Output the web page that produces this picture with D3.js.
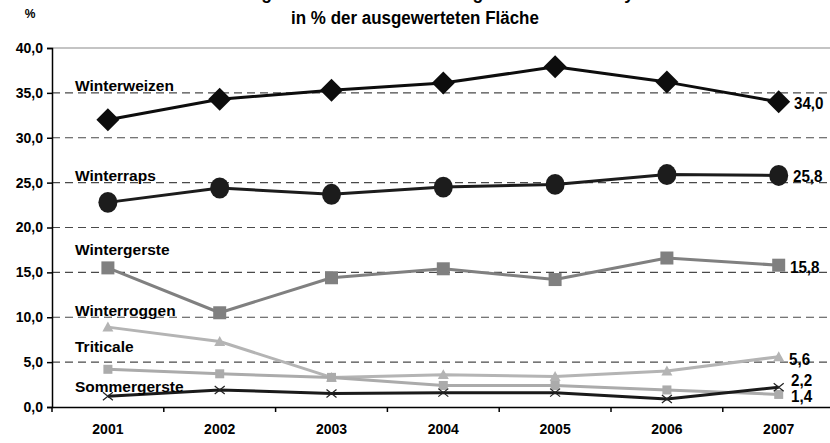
<!DOCTYPE html>
<html><head><meta charset="utf-8">
<script src="https://cdn.jsdelivr.net/npm/d3@7"></script>
<style>
html,body{margin:0;padding:0;background:#fff;overflow:hidden;}
svg{display:block;font-family:"Liberation Sans",Arial,sans-serif;font-weight:bold;}
</style></head>
<body>
<svg id="c" width="830" height="443"></svg>
<script>
const years = ["2001","2002","2003","2004","2005","2006","2007"];
const yTicks = [0,5,10,15,20,25,30,35,40];
const titleLines = ["Entwicklung der Anbauanteile wichtiger Kulturen in Bayern", "in % der ausgewerteten Fläche"];
const unitLabel = "%";
const winterweizen = [32.0,34.3,35.3,36.1,37.9,36.2,34.0];
const winterraps   = [22.8,24.4,23.7,24.5,24.8,25.9,25.8];
const wintergerste = [15.5,10.5,14.4,15.4,14.2,16.6,15.8];
const winterroggen = [8.9,7.3,3.3,3.6,3.4,4.0,5.6];
const triticale    = [4.2,3.7,3.3,2.4,2.4,1.9,1.4];
const sommergerste = [1.2,1.9,1.5,1.6,1.6,0.9,2.2];
const seriesNames = ["Winterweizen","Winterraps","Wintergerste","Winterroggen","Triticale","Sommergerste"];

const series = [
  {name:seriesNames[0], values:winterweizen, color:"#0d0d0d", marker:"diamond", size:23, lw:3, label:"34,0", lx:794, ly:109, nly:91},
  {name:seriesNames[1], values:winterraps,   color:"#1c1c1c", marker:"circle",  size:19, lw:3, label:"25,8", lx:793, ly:182, nly:181},
  {name:seriesNames[2], values:wintergerste, color:"#808080", marker:"square",  size:13, lw:3, label:"15,8", lx:790, ly:273, nly:255},
  {name:seriesNames[4], values:triticale,    color:"#ababab", marker:"square",  size:9,  lw:3, label:"1,4",  lx:791, ly:402, nly:352},
  {name:seriesNames[3], values:winterroggen, color:"#b4b4b4", marker:"triangle",size:11, lw:3, label:"5,6",  lx:789, ly:365, nly:316},
  {name:seriesNames[5], values:sommergerste, color:"#1a1a1a", marker:"x",       size:10, lw:3, label:"2,2",  lx:791, ly:386, nly:392}
];

const svg = d3.select("#c");
const pLeft = 52, pRight = 52 + 7*111.8, pTop = 48, pBottom = 407;
const x = d3.scaleBand().domain(years).range([pLeft, pRight]);
const y = d3.scaleLinear().domain([0,40]).range([pBottom, pTop]);
const cx = d => x(d) + x.bandwidth()/2;

// title (first line is cut off at the top edge, as in the reference)
svg.append("text").attr("x",415).attr("y",-1).attr("text-anchor","middle").attr("font-size",17.5).text(titleLines[0]);
svg.append("text").attr("x",415).attr("y",24).attr("text-anchor","middle").attr("font-size",17.5)
   .attr("transform","translate(415,0) scale(0.97,1) translate(-415,0)").text(titleLines[1]);
svg.append("text").attr("x",30).attr("y",18).attr("text-anchor","middle").attr("font-size",12).text(unitLabel);

// gridlines
svg.append("g").selectAll("line").data(yTicks.filter(t=>t>0)).join("line")
  .attr("x1",pLeft).attr("x2",830).attr("y1",d=>y(d)).attr("y2",d=>y(d))
  .attr("stroke", d=> d===40 ? "#8a8a8a" : "#4a4a4a")
  .attr("stroke-width",1.2)
  .attr("stroke-dasharray", d=> d===40 ? null : "8,5");

// y axis
const ya = svg.append("g").attr("transform",`translate(${pLeft},0)`)
  .call(d3.axisLeft(y).tickValues(yTicks).tickSize(5).tickPadding(4).tickFormat(d=>d3.format(".1f")(d).replace(".",",")));
ya.select(".domain").attr("stroke","#000").attr("stroke-width",1.5);
ya.selectAll(".tick line").attr("stroke","#000").attr("stroke-width",1.5);
ya.selectAll("text").attr("font-size",14).attr("font-family","Liberation Sans, Arial, sans-serif").attr("font-weight","bold").attr("fill","#000");

// x axis
const xa = svg.append("g").attr("transform",`translate(0,${pBottom})`)
  .call(d3.axisBottom(x).tickSize(0).tickPadding(17));
xa.select(".domain").attr("stroke","#000").attr("stroke-width",1.5);
xa.selectAll("text").attr("font-size",14).attr("font-family","Liberation Sans, Arial, sans-serif").attr("font-weight","bold").attr("fill","#000").attr("dy","0.71em");
svg.append("g").selectAll("line").data(years).join("line")
  .attr("x1",d=>x(d)).attr("x2",d=>x(d)).attr("y1",pBottom).attr("y2",pBottom+5)
  .attr("stroke","#000").attr("stroke-width",1.5);

// lines & markers
const line = d3.line().x((d,i)=>cx(years[i])).y(d=>y(d));
const order = [4,3,5,2,1,0];
order.forEach(k=>{
  const s = series[k];
  const g = svg.append("g");
  g.append("path").datum(s.values).attr("d",line).attr("fill","none").attr("stroke",s.color).attr("stroke-width",s.lw).attr("stroke-linejoin","round");
  const pts = g.selectAll(".m").data(s.values).join("g").attr("transform",(d,i)=>`translate(${cx(years[i])},${y(d)})`);
  const r = s.size/2;
  if (s.marker==="diamond") pts.append("path").attr("d",`M0,${-r}L${r},0L0,${r}L${-r},0Z`).attr("fill",s.color);
  if (s.marker==="circle") pts.append("ellipse").attr("rx",r).attr("ry",r*1.1).attr("fill",s.color);
  if (s.marker==="square") pts.append("rect").attr("x",-r).attr("y",-r).attr("width",s.size).attr("height",s.size).attr("fill",s.color);
  if (s.marker==="triangle") pts.append("path").attr("d",`M0,${-r}L${r},${r*0.8}L${-r},${r*0.8}Z`).attr("fill",s.color);
  if (s.marker==="x") pts.append("path").attr("d",`M${-r},${-r*0.8}L${r},${r*0.8}M${-r},${r*0.8}L${r},${-r*0.8}`).attr("stroke","#222").attr("stroke-width",1.2).attr("fill","none");
});

// series labels
series.forEach(s=>{
  svg.append("text").attr("x",75).attr("y",s.nly).attr("font-size",15.5).text(s.name);
  svg.append("text").attr("x",s.lx).attr("y",s.ly).attr("font-size",16.5)
    .attr("transform",`translate(${s.lx},0) scale(0.92,1) translate(${-s.lx},0)`).text(s.label);
});
</script>
</body></html>
